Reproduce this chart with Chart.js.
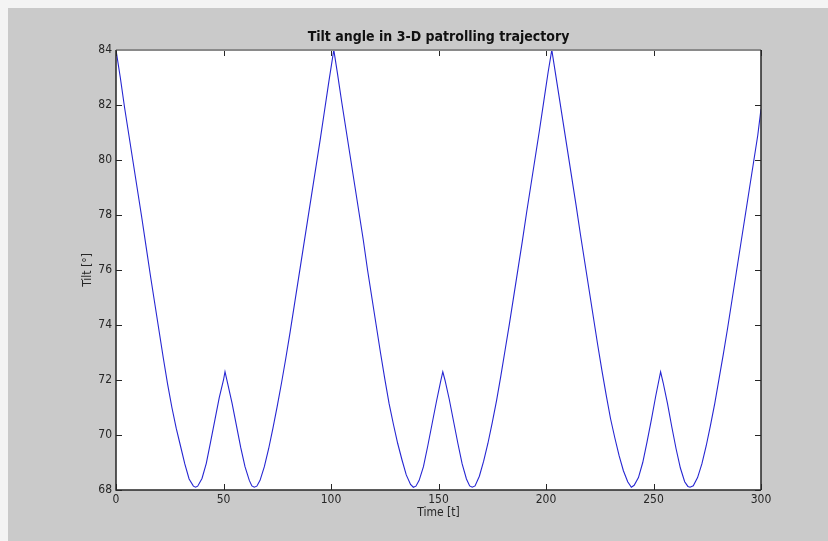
<!DOCTYPE html>
<html>
<head>
<meta charset="utf-8">
<title>Tilt angle in 3-D patrolling trajectory</title>
<script src="https://cdn.jsdelivr.net/npm/chart.js@4.4.1/dist/chart.umd.min.js"></script>
<style>
    html, body { margin: 0; padding: 0; background: #cacaca; }
    #wrap { width: 828px; height: 541px; }
</style>
</head>
<body>
<div id="wrap"><canvas id="tiltChart" width="828" height="541"></canvas></div>
<script>
// values
const timeValues = [
    0, 2, 4, 6, 8, 10, 12, 14, 16, 18, 20, 22, 24, 26, 28, 30, 32, 34, 36, 37, 38, 40, 42, 44, 46, 48, 50, 50.7,
    52, 54, 56, 58, 60, 62, 63.2, 64.3, 65.5, 67, 69, 71, 73, 75, 77, 79, 81, 83, 85, 87, 89, 91, 93, 95, 97, 99, 101.3,
    103, 105, 107, 109, 111, 113, 115, 117, 119, 121, 123, 125, 127, 129, 131, 133, 135, 137, 138.3, 139.5, 141, 143,
    145, 147, 149, 151, 152, 153, 155, 157, 159, 161, 163, 164.5, 165.7, 167, 169, 171, 173, 175, 177, 179, 181, 183,
    185, 187, 189, 191, 193, 195, 197, 199, 201, 202.7,
    204, 206, 208, 210, 212, 214, 216, 218, 220, 222, 224, 226, 228, 230, 232, 234, 236, 238, 239.7, 241, 243, 245,
    247, 249, 251, 253.3, 254.5, 256.5, 258.5, 260.5, 262.5, 264.5, 266, 267, 268.5, 270.5, 272.5, 274.5, 276.5,
    278.5, 280.5, 282.5, 284.5, 286.5, 288.5, 290.5, 292.5, 294.5, 296.5, 298.5, 300
];
const tiltValues = [
    84, 83.0, 81.9, 80.9, 79.9, 78.9, 77.9, 76.85, 75.8, 74.8, 73.8, 72.8, 71.85, 71.0, 70.25, 69.6, 68.95, 68.4, 68.14, 68.1, 68.14, 68.42, 68.97, 69.75, 70.55, 71.35, 72.0, 72.3,
    71.85, 71.15, 70.35, 69.55, 68.85, 68.35, 68.15, 68.1, 68.14, 68.35, 68.85, 69.5, 70.25, 71.05, 71.9, 72.8, 73.75, 74.75, 75.75, 76.75, 77.75, 78.75, 79.75, 80.75, 81.8, 82.85, 84,
    83.15, 82.1, 81.1, 80.1, 79.1, 78.1, 77.1, 76.0, 75.0, 74.0, 73.0, 72.05, 71.15, 70.4, 69.7, 69.1, 68.55, 68.2, 68.1, 68.14, 68.35, 68.85,
    69.6, 70.4, 71.2, 71.95, 72.3, 72.0, 71.3, 70.5, 69.7, 68.95, 68.4, 68.15, 68.1, 68.15, 68.5, 69.05, 69.7, 70.45, 71.25, 72.15, 73.1, 74.05,
    75.05, 76.05, 77.05, 78.1, 79.1, 80.1, 81.1, 82.15, 83.2, 84,
    83.35, 82.35, 81.35, 80.35, 79.35, 78.35, 77.3, 76.3, 75.3, 74.3, 73.3, 72.35, 71.45, 70.6, 69.9, 69.25, 68.7, 68.3, 68.1, 68.17, 68.45, 69.0,
    69.75, 70.55, 71.4, 72.3, 71.9, 71.15, 70.3, 69.5, 68.8, 68.3, 68.13, 68.1, 68.15, 68.45, 68.95, 69.6, 70.35,
    71.15, 72.05, 72.95, 73.9, 74.9, 75.9, 76.9, 77.9, 78.9, 79.9, 80.9, 81.85
];
const xTicks = [0, 50, 100, 150, 200, 250, 300];
const yTicks = [68, 70, 72, 74, 76, 78, 80, 82, 84];

const chartTitle = 'Tilt angle in 3-D patrolling trajectory';
const xTitle = 'Time [t]';
const yTitle = 'Tilt [°]';

const FONT = '"Liberation Sans Narrow", "DejaVu Sans Condensed", Arial, sans-serif';
const INK = '#262626';

// MATLAB-like figure: grey window, white axes, inward ticks, box around axes
const matlabFrame = {
    id: 'matlabFrame',
    beforeDraw(chart) {
        const { ctx, chartArea: a } = chart;
        ctx.save();
        ctx.fillStyle = '#f4f4f4';
        ctx.fillRect(0, 0, chart.width, chart.height);
        ctx.fillStyle = '#cacaca';
        ctx.fillRect(8, 8, chart.width - 8, chart.height - 8);
        ctx.fillStyle = '#ffffff';
        ctx.fillRect(a.left, a.top, a.right - a.left, a.bottom - a.top);
        ctx.restore();
    },
    afterDraw(chart) {
        const { ctx, chartArea: a } = chart;
        const xs = chart.scales.x;
        const ys = chart.scales.y;
        ctx.save();
        ctx.lineWidth = 1;

        // ticks pointing into the plot
        ctx.strokeStyle = INK;
        ctx.beginPath();
        xTicks.forEach(v => {
            const px = Math.round(xs.getPixelForValue(v)) + 0.5;
            ctx.moveTo(px, a.bottom); ctx.lineTo(px, a.bottom - 6);
            ctx.moveTo(px, a.top); ctx.lineTo(px, a.top + 6);
        });
        yTicks.forEach(v => {
            const py = Math.round(ys.getPixelForValue(v)) + 0.5;
            ctx.moveTo(a.left, py); ctx.lineTo(a.left + 6, py);
            ctx.moveTo(a.right, py); ctx.lineTo(a.right - 6, py);
        });
        ctx.stroke();

        // box
        ctx.strokeStyle = '#8a8a8a';
        ctx.lineWidth = 2;
        ctx.beginPath();
        ctx.moveTo(a.left, a.top); ctx.lineTo(a.right, a.top);
        ctx.stroke();
        ctx.strokeStyle = INK;
        ctx.lineWidth = 1.5;
        ctx.beginPath();
        ctx.moveTo(a.right, a.top); ctx.lineTo(a.right, a.bottom);
        ctx.moveTo(a.left, a.top); ctx.lineTo(a.left, a.bottom); ctx.lineTo(a.right, a.bottom);
        ctx.stroke();

        // title and axis labels
        const cx = (a.left + a.right) / 2;
        ctx.fillStyle = '#111111';
        ctx.textAlign = 'center';
        ctx.textBaseline = 'middle';
        ctx.font = 'bold 14px ' + FONT;
        ctx.fillText(chartTitle, cx, 37);

        ctx.fillStyle = INK;
        ctx.font = '12px ' + FONT;
        ctx.fillText(xTitle, cx, 513);

        ctx.translate(88, (a.top + a.bottom) / 2);
        ctx.rotate(-Math.PI / 2);
        ctx.fillText(yTitle, 0, 0);
        ctx.restore();
    }
};

document.addEventListener('DOMContentLoaded', () => {
    const ctx = document.getElementById('tiltChart');
    const points = timeValues.map((t, i) => ({ x: t, y: tiltValues[i] }));

    new Chart(ctx, {
        type: 'line',
        data: {
            datasets: [{
                label: 'Tilt',
                data: points,
                borderColor: '#2626d2',
                borderWidth: 1.1,
                pointRadius: 0,
                tension: 0,
                fill: false
            }]
        },
        options: {
            responsive: false,
            animation: false,
            layout: { padding: { top: 50, right: 67, left: 0, bottom: 0 } },
            plugins: {
                legend: { display: false },
                title: { display: false },
                tooltip: { enabled: false }
            },
            scales: {
                x: {
                    type: 'linear',
                    min: 0,
                    max: 300,
                    afterBuildTicks: scale => { scale.ticks = xTicks.map(v => ({ value: v })); },
                    afterFit: scale => { scale.height = 51; },
                    grid: { display: false, drawTicks: false },
                    border: { display: false },
                    ticks: {
                        padding: 3,
                        maxRotation: 0,
                        color: INK,
                        font: { family: FONT, size: 12 }
                    }
                },
                y: {
                    min: 68,
                    max: 84,
                    afterBuildTicks: scale => { scale.ticks = yTicks.map(v => ({ value: v })); },
                    afterFit: scale => { scale.width = 116; },
                    grid: { display: false, drawTicks: false },
                    border: { display: false },
                    ticks: {
                        padding: 4,
                        color: INK,
                        font: { family: FONT, size: 12 }
                    }
                }
            }
        },
        plugins: [matlabFrame]
    });
});
</script>
</body>
</html>
